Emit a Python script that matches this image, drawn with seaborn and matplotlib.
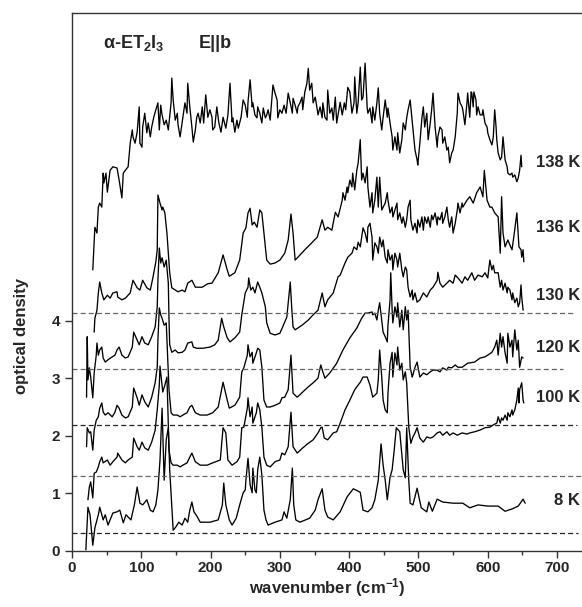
import matplotlib
matplotlib.use("Agg")
import matplotlib.pyplot as plt
from matplotlib.ticker import MultipleLocator
import pandas as pd
import seaborn as sns

# ---- spectra: wavenumber (cm^-1) and optical density (vertically offset) ----
wn_8K = [20, 23, 26, 30, 33, 38, 40, 45, 48, 52, 59, 65, 69, 74, 78, 81, 85, 90, 94, 98,
         102, 108, 113, 117, 121, 124, 127, 130, 133, 136, 139, 141, 146, 150, 154, 159, 163, 167, 170, 173,
         176, 180, 185, 199, 211, 217, 219, 222, 227, 231, 237, 242, 247, 250, 251, 254, 257, 260, 261, 264,
         266, 268, 271, 274, 277, 280, 283, 293, 303, 306, 310, 315, 318, 320, 323, 329, 343, 351, 355, 361,
         365, 369, 377, 387, 397, 406, 416, 420, 427, 433, 437, 442, 446, 449, 452, 455, 459, 462, 465, 468,
         473, 478, 481, 483, 486, 488, 492, 498, 504, 512, 515, 520, 527, 535, 550, 564, 574, 586, 600, 615,
         625, 635, 644, 651, 654]
od_8K = [0.02, 0.76, 0.63, 0.10, 0.40, 0.63, 0.76, 0.54, 0.63, 0.45, 0.66, 0.68, 0.71, 0.49, 0.63, 0.59, 0.54, 0.80, 1.11, 0.83,
         0.80, 0.89, 0.71, 0.68, 0.80, 1.06, 1.58, 2.48, 1.23, 1.93, 2.14, 1.41, 0.36, 0.42, 0.50, 0.45, 0.57, 0.50, 0.71, 0.85,
         0.68, 0.61, 0.50, 0.50, 0.54, 0.80, 1.18, 0.80, 0.54, 0.45, 0.57, 0.80, 1.01, 1.06, 1.23, 1.61, 1.15, 1.01, 1.44, 1.06,
         1.01, 1.41, 1.63, 1.32, 0.71, 0.54, 0.45, 0.50, 0.54, 0.68, 0.57, 0.89, 1.44, 0.80, 0.54, 0.50, 0.57, 0.71, 0.89, 1.08,
         0.71, 0.59, 0.54, 0.68, 0.94, 1.08, 1.02, 0.71, 0.68, 0.75, 0.89, 1.23, 1.86, 1.49, 1.23, 0.89, 1.28, 1.41, 1.75, 2.14,
         2.07, 1.41, 1.27, 2.14, 1.23, 0.83, 0.80, 1.09, 0.75, 0.68, 0.85, 0.69, 0.90, 0.85, 0.83, 0.83, 0.75, 0.80, 0.78, 0.78,
         0.69, 0.73, 0.78, 0.90, 0.83]

wn_100K = [23, 25, 27, 30, 32, 35, 38, 40, 43, 45, 51, 55, 59, 65, 66, 72, 77, 81, 87, 89,
           94, 97, 101, 105, 110, 115, 120, 123, 126, 127, 130, 131, 134, 137, 138, 140, 143, 146, 152, 156,
           160, 166, 170, 173, 178, 185, 195, 203, 214, 218, 222, 225, 231, 238, 242, 245, 248, 253, 254, 257,
           260, 261, 266, 268, 271, 274, 277, 281, 286, 293, 300, 303, 307, 312, 316, 319, 325, 333, 341, 348,
           355, 359, 361, 364, 369, 377, 382, 387, 394, 401, 408, 416, 420, 426, 430, 434, 440, 442, 444, 447,
           449, 452, 455, 456, 459, 462, 463, 466, 469, 470, 473, 476, 478, 481, 483, 485, 486, 489, 492, 495,
           498, 502, 507, 512, 517, 521, 527, 531, 535, 541, 545, 550, 556, 563, 570, 574, 581, 589, 596, 603,
           608, 613, 615, 618, 620, 622, 625, 628, 629, 632, 635, 636, 639, 642, 644, 645, 646, 649, 651, 652]
od_100K = [0.89, 1.11, 1.20, 0.92, 1.35, 1.37, 1.46, 1.55, 1.63, 1.53, 1.58, 1.49, 1.55, 1.63, 1.70, 1.58, 1.53, 1.58, 1.63, 1.96,
           1.81, 1.75, 1.89, 1.79, 1.75, 1.89, 2.10, 2.45, 2.88, 3.21, 2.88, 2.76, 2.88, 3.02, 2.62, 1.75, 1.53, 1.49, 1.49, 1.46,
           1.49, 1.53, 1.63, 1.70, 1.55, 1.49, 1.49, 1.53, 1.58, 2.14, 2.05, 1.58, 1.49, 1.55, 1.63, 2.14, 2.15, 2.48, 2.66, 2.33,
           2.50, 2.22, 2.40, 2.57, 2.45, 2.15, 1.63, 1.49, 1.46, 1.55, 1.58, 1.70, 1.67, 1.81, 2.41, 1.81, 1.70, 1.79, 1.87, 1.93,
           2.05, 2.14, 2.15, 1.96, 1.93, 2.05, 2.07, 2.22, 2.45, 2.62, 2.80, 2.93, 3.02, 3.02, 2.88, 2.67, 2.74, 2.97, 3.49, 3.02,
           2.62, 2.45, 2.40, 2.74, 3.26, 3.45, 3.02, 3.44, 3.23, 3.54, 3.14, 3.26, 2.97, 3.11, 2.92, 2.40, 2.15, 1.87, 1.98, 2.05,
           2.14, 1.96, 1.89, 1.98, 1.96, 1.98, 2.05, 2.07, 2.01, 2.07, 2.01, 2.05, 2.01, 2.05, 2.03, 2.05, 2.07, 2.10, 2.14, 2.15,
           2.19, 2.22, 2.33, 2.22, 2.31, 2.27, 2.36, 2.27, 2.40, 2.33, 2.45, 2.36, 2.45, 2.62, 2.83, 2.57, 2.80, 2.92, 2.62, 2.57]

wn_120K = [21, 22, 25, 27, 30, 32, 35, 38, 40, 43, 45, 48, 52, 58, 62, 65, 68, 72, 77, 81,
           87, 89, 94, 97, 101, 105, 110, 115, 120, 123, 124, 126, 128, 130, 133, 136, 137, 140, 143, 146,
           152, 156, 160, 166, 170, 173, 178, 185, 195, 203, 211, 218, 224, 227, 235, 242, 245, 248, 253, 254,
           257, 260, 261, 266, 268, 271, 274, 277, 281, 286, 293, 300, 303, 307, 312, 316, 319, 325, 333, 341,
           348, 355, 359, 362, 365, 372, 382, 391, 401, 411, 418, 423, 427, 433, 434, 437, 440, 442, 444, 447,
           449, 452, 455, 456, 459, 460, 462, 463, 466, 469, 470, 473, 476, 478, 481, 483, 485, 488, 491, 492,
           495, 498, 502, 507, 512, 517, 521, 527, 531, 535, 541, 543, 548, 553, 557, 563, 571, 581, 589, 596,
           600, 606, 610, 613, 615, 618, 620, 622, 625, 628, 629, 632, 635, 636, 639, 642, 644, 646, 649, 651]
od_120K = [1.81, 2.14, 2.05, 2.07, 1.75, 2.10, 2.27, 2.33, 2.48, 2.57, 2.41, 2.36, 2.40, 2.33, 2.41, 2.53, 2.48, 2.36, 2.31, 2.33,
           2.50, 2.83, 2.66, 2.53, 2.71, 2.59, 2.50, 2.67, 2.92, 3.19, 3.66, 4.22, 4.10, 4.04, 3.92, 3.96, 3.66, 2.80, 2.40, 2.36,
           2.36, 2.33, 2.36, 2.40, 2.50, 2.53, 2.40, 2.36, 2.36, 2.40, 2.50, 2.93, 2.62, 2.48, 2.53, 2.67, 3.11, 3.18, 3.40, 3.58,
           3.37, 3.45, 3.26, 3.44, 3.52, 3.49, 3.19, 2.62, 2.50, 2.50, 2.53, 2.57, 2.66, 2.67, 2.80, 3.40, 2.74, 2.67, 2.76, 2.85,
           2.92, 3.00, 3.23, 3.11, 3.00, 3.09, 3.26, 3.49, 3.70, 3.87, 4.04, 4.13, 4.13, 4.15, 4.10, 4.13, 4.01, 4.18, 4.31, 4.01,
           3.80, 3.72, 3.63, 3.92, 4.36, 4.83, 4.18, 3.96, 4.24, 4.06, 4.31, 3.89, 4.18, 3.84, 4.24, 4.01, 4.18, 3.19, 3.02, 3.06,
           3.19, 3.28, 3.02, 3.09, 3.06, 3.11, 3.14, 3.14, 3.11, 3.18, 3.14, 3.19, 3.18, 3.23, 3.19, 3.19, 3.26, 3.28, 3.35, 3.37,
           3.40, 3.45, 3.54, 3.66, 3.40, 3.78, 3.54, 3.72, 3.44, 3.26, 3.78, 3.54, 3.66, 3.37, 3.84, 3.49, 3.66, 3.19, 3.37, 3.35]

wn_130K = [21, 22, 23, 25, 27, 30, 32, 35, 36, 38, 40, 43, 45, 48, 52, 58, 62, 65, 68, 72,
           77, 81, 87, 89, 94, 97, 101, 105, 110, 115, 120, 123, 124, 126, 128, 130, 133, 136, 139, 140,
           141, 144, 149, 153, 159, 163, 167, 173, 175, 180, 189, 199, 206, 211, 216, 219, 224, 228, 235, 242,
           245, 250, 254, 255, 258, 261, 264, 268, 271, 274, 279, 281, 286, 293, 300, 304, 310, 315, 317, 319,
           322, 332, 341, 348, 355, 361, 365, 369, 377, 384, 387, 394, 398, 404, 407, 411, 413, 416, 418, 420,
           423, 426, 427, 430, 433, 434, 437, 440, 442, 444, 447, 449, 452, 455, 456, 459, 462, 463, 466, 469,
           470, 473, 476, 478, 481, 483, 485, 488, 491, 492, 495, 498, 502, 507, 512, 517, 521, 527, 528, 531,
           535, 541, 545, 550, 553, 557, 563, 567, 571, 577, 581, 586, 592, 596, 600, 603, 606, 608, 610, 615,
           618, 620, 622, 625, 628, 629, 632, 635, 636, 639, 642, 644, 646, 648, 649, 651]
od_130K = [2.67, 3.72, 2.97, 3.18, 3.02, 2.66, 3.09, 3.40, 3.61, 3.40, 3.49, 3.54, 3.35, 3.28, 3.32, 3.37, 3.40, 3.49, 3.54, 3.40,
           3.35, 3.37, 3.54, 3.80, 3.66, 3.58, 3.72, 3.61, 3.58, 3.72, 3.89, 4.24, 4.70, 5.26, 5.00, 5.09, 4.93, 5.05, 4.65, 4.01,
           3.58, 3.45, 3.49, 3.44, 3.45, 3.49, 3.61, 3.63, 3.54, 3.52, 3.52, 3.54, 3.58, 3.66, 4.04, 3.89, 3.70, 3.63, 3.70, 3.80,
           4.10, 4.48, 4.58, 4.74, 4.53, 4.58, 4.48, 4.67, 4.58, 4.48, 4.24, 3.96, 3.78, 3.75, 3.78, 3.89, 4.06, 4.67, 4.24, 3.89,
           3.84, 3.92, 4.01, 4.10, 4.18, 4.48, 4.24, 4.36, 4.48, 4.76, 4.79, 5.00, 5.10, 5.17, 5.28, 5.23, 5.36, 5.28, 5.45, 5.61,
           5.52, 5.36, 5.62, 5.69, 5.45, 5.05, 5.35, 5.28, 5.17, 5.45, 5.28, 5.40, 5.10, 5.00, 5.23, 5.05, 5.14, 4.88, 5.17, 5.05,
           4.93, 5.17, 4.88, 4.76, 4.93, 4.88, 4.58, 4.41, 4.53, 4.36, 4.48, 4.32, 4.36, 4.48, 4.41, 4.53, 4.58, 4.70, 4.84, 4.65,
           4.58, 4.65, 4.70, 4.65, 4.79, 4.74, 4.65, 4.76, 4.70, 4.83, 4.70, 4.79, 4.76, 4.83, 4.74, 5.05, 4.88, 4.96, 4.83, 4.83,
           4.58, 4.70, 4.53, 4.65, 4.48, 4.58, 4.53, 4.36, 4.48, 4.31, 4.39, 4.24, 4.31, 4.62, 4.41, 4.18]

wn_136K = [32, 33, 36, 38, 40, 43, 46, 51, 55, 59, 65, 66, 72, 77, 84, 88, 94, 98, 102, 108,
           113, 117, 121, 123, 124, 127, 130, 131, 134, 137, 141, 144, 149, 153, 159, 163, 167, 173, 178, 188,
           196, 202, 211, 218, 224, 227, 235, 242, 247, 251, 254, 257, 260, 263, 267, 271, 274, 279, 281, 286,
           293, 300, 307, 312, 316, 319, 322, 326, 336, 346, 354, 361, 365, 369, 375, 380, 384, 390, 391, 394,
           397, 398, 401, 404, 405, 408, 411, 413, 416, 418, 420, 423, 426, 427, 430, 433, 434, 437, 440, 442,
           444, 447, 449, 452, 455, 456, 459, 462, 463, 466, 469, 470, 473, 476, 478, 481, 483, 485, 488, 489,
           492, 495, 498, 499, 502, 505, 507, 509, 512, 514, 517, 519, 521, 524, 527, 528, 531, 534, 535, 538,
           541, 543, 545, 548, 550, 553, 556, 557, 560, 563, 564, 570, 574, 579, 584, 589, 593, 595, 599, 603,
           606, 610, 615, 618, 620, 622, 625, 629, 632, 635, 638, 642, 645, 648, 649, 651, 652]
od_136K = [3.80, 4.04, 4.18, 4.48, 4.67, 4.48, 4.36, 4.44, 4.39, 4.48, 4.50, 4.41, 4.36, 4.39, 4.48, 4.70, 4.57, 4.53, 4.70, 4.57,
           4.53, 4.76, 5.02, 5.23, 6.18, 6.04, 5.92, 5.97, 5.87, 5.52, 4.83, 4.57, 4.53, 4.50, 4.53, 4.50, 4.65, 4.70, 4.58, 4.58,
           4.64, 4.65, 4.83, 5.14, 4.88, 4.77, 4.83, 5.05, 5.52, 5.61, 5.87, 5.95, 5.66, 5.71, 5.62, 5.92, 5.87, 5.28, 5.05, 4.98,
           5.00, 5.05, 5.17, 5.40, 5.85, 5.52, 5.05, 5.10, 5.23, 5.35, 5.45, 5.75, 5.57, 5.62, 5.57, 5.88, 5.80, 6.09, 6.22, 6.09,
           6.32, 6.22, 6.44, 6.32, 6.56, 6.27, 6.61, 6.74, 7.14, 6.44, 6.56, 6.39, 6.67, 6.32, 5.97, 6.22, 5.87, 6.09, 6.49, 5.97,
           6.49, 5.92, 5.97, 6.04, 6.22, 6.09, 5.87, 5.97, 5.80, 5.92, 6.04, 5.75, 5.87, 5.69, 5.80, 5.62, 5.75, 5.97, 6.09, 5.75,
           5.57, 5.69, 5.52, 5.75, 5.62, 5.80, 5.57, 5.80, 5.69, 5.80, 5.62, 5.83, 5.75, 5.87, 5.66, 5.80, 5.75, 5.88, 5.69, 5.80,
           5.97, 5.75, 5.62, 5.80, 5.52, 5.69, 5.92, 6.04, 5.87, 6.04, 5.97, 6.09, 6.15, 6.04, 6.22, 6.32, 6.15, 6.61, 6.09, 5.97,
           5.97, 5.87, 5.80, 5.17, 6.15, 5.52, 5.28, 5.40, 5.31, 5.23, 5.49, 5.87, 5.28, 5.23, 5.10, 5.23, 5.02]

wn_138K = [30, 33, 36, 38, 40, 43, 45, 46, 49, 51, 55, 59, 65, 68, 72, 74, 77, 81, 84, 87,
           88, 91, 94, 97, 98, 101, 102, 105, 108, 110, 113, 115, 118, 121, 124, 126, 128, 130, 133, 136,
           139, 143, 144, 146, 149, 152, 153, 156, 160, 163, 166, 167, 170, 173, 175, 178, 180, 182, 185, 188,
           190, 193, 196, 199, 202, 203, 206, 209, 212, 215, 218, 222, 225, 228, 231, 232, 235, 238, 240, 244,
           247, 250, 253, 254, 257, 260, 261, 264, 267, 268, 271, 274, 276, 279, 281, 283, 286, 289, 290, 293,
           296, 297, 300, 303, 306, 309, 312, 315, 318, 319, 322, 325, 326, 329, 332, 333, 336, 339, 341, 343,
           346, 348, 351, 354, 355, 358, 361, 362, 365, 368, 369, 372, 375, 377, 380, 382, 387, 390, 393, 395,
           398, 401, 404, 407, 408, 411, 413, 416, 418, 420, 423, 426, 427, 430, 433, 434, 437, 440, 442, 444,
           447, 449, 452, 455, 456, 459, 462, 463, 466, 469, 470, 473, 476, 478, 481, 483, 485, 488, 491, 492,
           495, 498, 499, 502, 505, 507, 509, 512, 514, 517, 519, 521, 524, 527, 528, 531, 534, 535, 538, 541,
           543, 545, 548, 550, 553, 556, 557, 560, 563, 564, 567, 570, 571, 574, 576, 577, 579, 580, 583, 584,
           586, 589, 592, 593, 596, 599, 600, 603, 606, 608, 610, 612, 613, 615, 618, 620, 622, 625, 628, 629,
           632, 635, 636, 639, 642, 644, 646, 648, 649]
od_138K = [4.88, 5.62, 5.52, 5.97, 6.04, 5.97, 6.56, 6.39, 6.56, 6.23, 6.61, 6.67, 6.65, 6.44, 6.13, 6.56, 6.61, 6.67, 7.08, 7.31,
           7.19, 7.08, 7.27, 7.71, 7.08, 7.01, 7.36, 7.60, 7.26, 7.43, 7.19, 7.36, 7.53, 7.66, 7.78, 7.31, 7.74, 7.57, 7.40, 7.48,
           7.31, 7.78, 8.21, 7.83, 7.48, 7.60, 7.40, 7.19, 7.53, 7.78, 7.60, 8.12, 7.71, 7.36, 7.10, 7.31, 7.53, 7.60, 7.43, 7.71,
           7.43, 7.92, 7.53, 7.66, 7.53, 7.31, 7.36, 7.71, 7.43, 7.27, 7.53, 7.34, 7.57, 8.12, 7.45, 7.52, 7.27, 7.48, 7.34, 7.53,
           7.83, 7.74, 7.53, 7.79, 8.18, 7.71, 7.78, 7.57, 7.52, 7.71, 7.60, 7.43, 7.69, 7.52, 7.57, 7.66, 7.48, 7.95, 8.09, 7.95,
           7.83, 7.52, 7.66, 7.60, 7.74, 7.60, 7.95, 7.78, 7.60, 7.86, 7.74, 7.60, 7.71, 7.78, 7.88, 7.66, 7.97, 8.12, 8.38, 8.00,
           8.12, 7.78, 7.88, 7.66, 7.57, 7.71, 7.52, 7.78, 7.53, 7.48, 8.00, 7.60, 7.69, 7.48, 7.88, 7.43, 7.79, 7.57, 7.78, 7.66,
           8.05, 7.97, 7.60, 7.78, 8.23, 7.60, 7.79, 8.40, 7.83, 7.88, 8.47, 7.69, 7.60, 7.69, 7.43, 7.71, 7.48, 7.78, 8.04, 7.60,
           7.31, 7.53, 7.83, 7.53, 7.69, 7.43, 7.19, 6.96, 7.19, 6.96, 7.26, 6.91, 7.14, 7.43, 7.31, 7.52, 7.66, 7.83, 7.45, 7.31,
           6.96, 6.79, 6.70, 7.08, 7.52, 7.71, 7.36, 7.60, 7.14, 7.43, 7.66, 7.95, 7.36, 7.01, 7.19, 7.36, 7.31, 7.08, 7.19, 6.96,
           7.01, 6.74, 6.91, 6.96, 7.19, 7.60, 7.95, 7.78, 7.71, 7.66, 7.40, 7.78, 7.95, 7.53, 7.97, 7.95, 7.71, 7.97, 7.83, 7.57,
           7.71, 7.57, 7.57, 7.66, 7.43, 7.36, 7.26, 7.14, 7.05, 7.19, 7.66, 7.36, 7.14, 6.91, 6.79, 6.84, 7.19, 6.79, 6.67, 6.56,
           6.53, 6.56, 6.49, 6.53, 6.41, 6.48, 6.61, 6.87, 6.67]

temps = ["8 K", "100 K", "120 K", "130 K", "136 K", "138 K"]
label_od = [0.87, 2.67, 3.54, 4.44, 5.61, 6.75]

# zero lines of the offset spectra (dashed) and where each one stops
baselines = [0.32, 1.31, 2.18, 3.16, 4.14]
baseline_ends = [730, 736, 729, 708, 723]
baseline_colors = ["#222222", "#666666", "#222222", "#666666", "#666666"]

spectra = [(wn_8K, od_8K), (wn_100K, od_100K), (wn_120K, od_120K),
           (wn_130K, od_130K), (wn_136K, od_136K), (wn_138K, od_138K)]
frames = []
for t, (w, o) in zip(temps, spectra):
    if len(w) != len(o):
        raise ValueError(f"{t}: {len(w)} wavenumbers vs {len(o)} values")
    frames.append(pd.DataFrame({"wavenumber": w, "od": o, "T": t}))
df = pd.concat(frames, ignore_index=True)

# ---- styling ----
sns.set_theme(style="ticks")
plt.rcParams["font.family"] = ["Liberation Sans", "DejaVu Sans"]
plt.rcParams["font.weight"] = "bold"
plt.rcParams["mathtext.fontset"] = "custom"
plt.rcParams["mathtext.rm"] = "Liberation Sans:bold"
plt.rcParams["mathtext.it"] = "Liberation Sans:bold"
plt.rcParams["mathtext.bf"] = "Liberation Sans:bold"

fig = plt.figure(figsize=(5.82, 6.07), dpi=100)
ax = fig.add_axes([72 / 582, 56 / 607, 510 / 582, 538 / 607])

for t in temps:
    sns.lineplot(data=df[df["T"] == t], x="wavenumber", y="od", estimator=None,
                 sort=False, color="black", lw=0.95, ax=ax, legend=False)

for b, e, c in zip(baselines, baseline_ends, baseline_colors):
    ax.hlines(b, 0, e, colors=c, linestyles=(0, (4, 2.5)), lw=0.9)

for t, y in zip(temps, label_od):
    ax.text(733, y, t, ha="right", va="center", fontsize=12, fontweight="bold")

ax.text(0.06, 0.935, r"$\alpha$-ET$_2$I$_3$", transform=ax.transAxes,
        fontsize=13, fontweight="bold", ha="left", va="baseline")
ax.text(0.248, 0.935, "E||b", transform=ax.transAxes,
        fontsize=13, fontweight="bold", ha="left", va="baseline")

ax.set_xlim(0, 736)
ax.set_ylim(0, 9.34)
ax.set_xticks(range(0, 701, 100))
ax.xaxis.set_minor_locator(MultipleLocator(50))
ax.set_yticks([0, 1, 2, 3, 4])

ax.set_xlabel("wavenumber (cm$^{-1}$)", fontsize=12, fontweight="bold")
ax.set_ylabel("optical density", fontsize=12, fontweight="bold")
ax.xaxis.set_label_coords(0.5, -0.046)
ax.yaxis.set_label_coords(-0.085, 0.4)

for side in ("left", "bottom", "top"):
    ax.spines[side].set_linewidth(1.0)
    ax.spines[side].set_color("#333333")
ax.spines["right"].set_visible(False)
ax.tick_params(axis="both", which="major", direction="out", length=5, width=1,
               color="#333333", labelsize=11)
ax.tick_params(axis="x", which="major", pad=2)
ax.tick_params(axis="x", which="minor", direction="out", length=3, width=1, color="#333333")
for lab in ax.get_xticklabels() + ax.get_yticklabels():
    lab.set_fontweight("bold")

fig.savefig("out.png", dpi=100)
